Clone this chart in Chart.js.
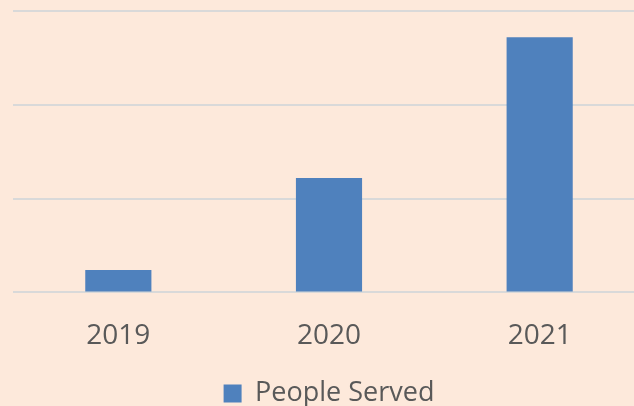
<!DOCTYPE html>
<html>
<head>
<meta charset="utf-8">
<script src="https://cdn.jsdelivr.net/npm/chart.js@4"></script>
<style>
  html, body { margin: 0; padding: 0; background: #fde9db; overflow: hidden; }
  #wrap { position: absolute; left: 0; top: 0; width: 645px; height: 417px; }
</style>
</head>
<body>
<div id="wrap"><canvas id="myChart"></canvas></div>
<script>
// data (axis labels hidden in the original)
const years = ["2019", "2020", "2021"];
const peopleServed = [120, 610, 1360];
const yTicks = [0, 500, 1000, 1500];

const ctx = document.getElementById("myChart").getContext("2d");
const chart = new Chart(ctx, {
  type: "bar",
  data: {
    labels: years,
    datasets: [{
      label: "People Served",
      data: peopleServed,
      backgroundColor: "#4f81bd",
      borderWidth: 0,
      categoryPercentage: 1,
      barPercentage: 0.314
    }]
  },
  options: {
    responsive: true,
    maintainAspectRatio: false,
    animation: false,
    layout: { padding: { left: 13, top: 11, right: 0, bottom: 0 } },
    plugins: {
      tooltip: { enabled: false },
      legend: {
        position: "bottom",
        labels: {
          color: "#595959",
          font: { family: "'Open Sans', sans-serif", size: 27 },
          boxWidth: 18,
          boxHeight: 18,
          padding: 8
        }
      }
    },
    scales: {
      x: {
        grid: { display: false },
        border: { display: false },
        ticks: {
          color: "#595959",
          font: { family: "'Open Sans', sans-serif", size: 28 },
          padding: 19
        }
      },
      y: {
        min: yTicks[0],
        max: yTicks[yTicks.length - 1],
        afterBuildTicks: axis => { axis.ticks = yTicks.map(v => ({ value: v })); },
        grid: { color: "#d9d9d9", lineWidth: 2, drawTicks: false },
        border: { display: false },
        ticks: { display: false }
      }
    }
  }
});
</script>
</body>
</html>
